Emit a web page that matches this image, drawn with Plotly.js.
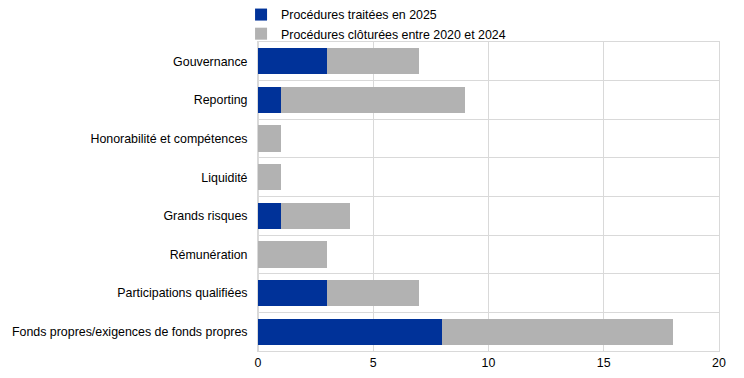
<!DOCTYPE html>
<html>
<head>
<meta charset="utf-8">
<script src="https://cdn.plot.ly/plotly-3.0.1.min.js"></script>
<style>html,body{margin:0;padding:0;background:#fff;}#chart{width:744px;height:378px;}</style>
</head>
<body>
<div id="chart"></div>
<script>
const categories = [
  "Gouvernance",
  "Reporting",
  "Honorabilité et compétences",
  "Liquidité",
  "Grands risques",
  "Rémunération",
  "Participations qualifiées",
  "Fonds propres/exigences de fonds propres"
];
const treated2025 = [3, 1, 0, 0, 1, 0, 3, 8];
const closed2020_2024 = [4, 8, 1, 1, 3, 3, 4, 10];
const seriesNames = ["Procédures traitées en 2025", "Procédures clôturées entre 2020 et 2024"];
const xTicks = [0, 5, 10, 15, 20];

const font = {family: "Liberation Sans, Arial, sans-serif", size: 12.4, color: "#000"};
const grid = "#d9d9d9";

const data = [
  {type: "bar", orientation: "h", y: categories, x: treated2025, name: seriesNames[0],
   marker: {color: "#003299"}, hoverinfo: "x+y"},
  {type: "bar", orientation: "h", y: categories, x: closed2020_2024, name: seriesNames[1],
   marker: {color: "#b2b2b2"}, hoverinfo: "x+y"}
];

const layout = {
  width: 744, height: 378,
  margin: {l: 258, r: 25, t: 42, b: 27, autoexpand: false},
  paper_bgcolor: "#fff", plot_bgcolor: "#fff",
  font: font,
  barmode: "stack",
  bargap: 0.32,
  showlegend: true,
  legend: {
    xref: "container", yref: "container",
    x: 0.324, xanchor: "left", y: 1.022, yanchor: "top",
    orientation: "v", traceorder: "normal",
    font: font, bgcolor: "rgba(0,0,0,0)", tracegroupgap: 0
  },
  xaxis: {
    range: [0, 20], tickvals: xTicks, ticktext: xTicks.map(String),
    showgrid: true, gridcolor: grid, gridwidth: 1,
    zeroline: true, zerolinecolor: grid, zerolinewidth: 1,
    showline: true, linecolor: grid, mirror: true,
    ticks: "", tickfont: font, fixedrange: true
  },
  yaxis: {
    type: "category", autorange: "reversed",
    tickson: "boundaries", showgrid: true, gridcolor: grid, gridwidth: 1,
    showline: true, linecolor: grid, mirror: true,
    ticks: "", ticklabelstandoff: 7, tickfont: font, fixedrange: true
  }
};

Plotly.newPlot("chart", data, layout, {displayModeBar: false, staticPlot: true});
</script>
</body>
</html>
